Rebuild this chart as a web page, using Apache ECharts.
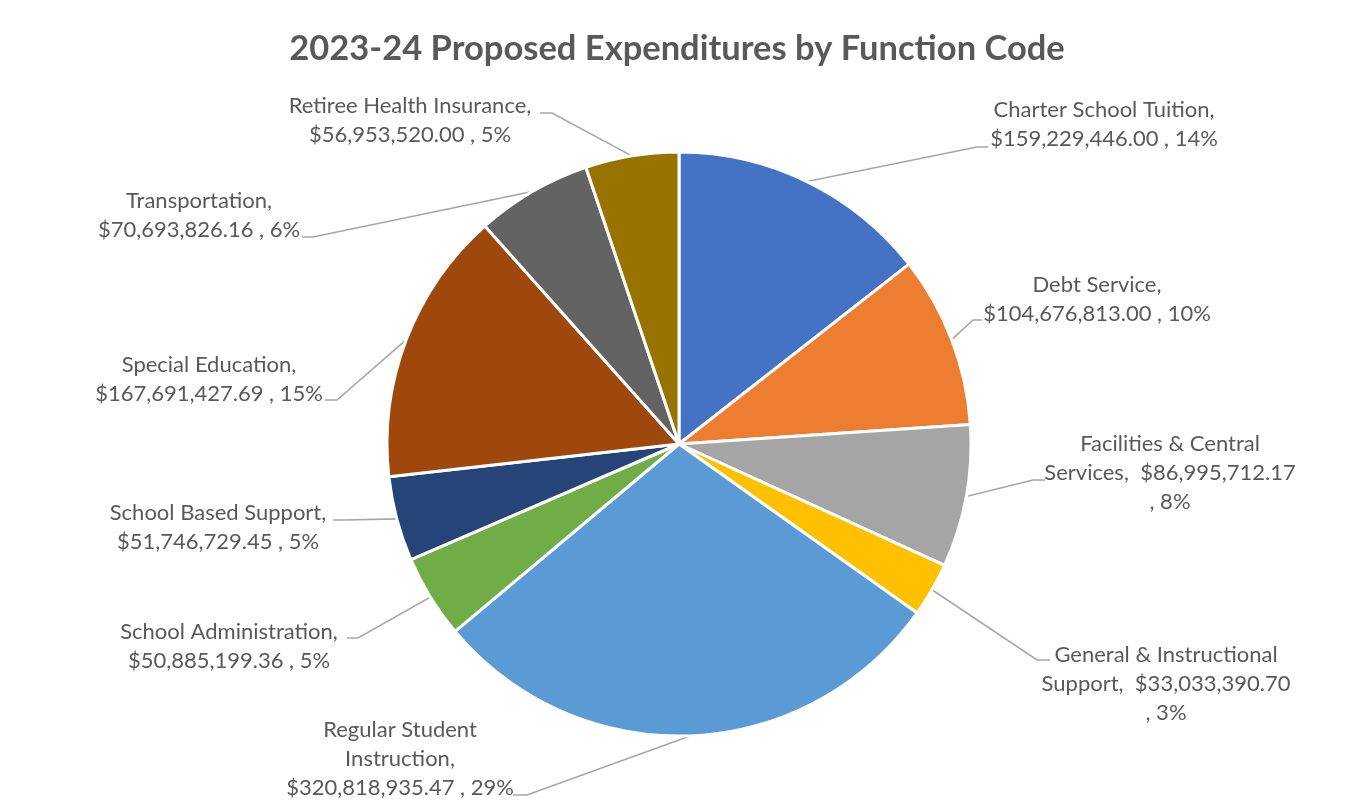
<!DOCTYPE html>
<html>
<head>
<meta charset="utf-8">
<title>2023-24 Proposed Expenditures by Function Code</title>
<script src="https://cdn.jsdelivr.net/npm/echarts@6/dist/echarts.min.js"></script>
<style>
  html, body { margin: 0; padding: 0; background: #ffffff; }
  #chart { width: 1354px; height: 807px; }
</style>
</head>
<body>
<div id="chart"></div>
<script>
// Budget lines, clockwise from 12 o'clock
const categories = [
  'Charter School Tuition',
  'Debt Service',
  'Facilities & Central Services',
  'General & Instructional Support',
  'Regular Student Instruction',
  'School Administration',
  'School Based Support',
  'Special Education',
  'Transportation',
  'Retiree Health Insurance'
];
const amounts = [
  159229446.00,
  104676813.00,
  86995712.17,
  33033390.70,
  320818935.47,
  50885199.36,
  51746729.45,
  167691427.69,
  70693826.16,
  56953520.00
];
const sliceColors = [
  '#4472C4', '#ED7D31', '#A5A5A5', '#FFC000', '#5B9BD5',
  '#70AD47', '#264478', '#9E480E', '#636363', '#997300'
];
// word positions after which each label wraps onto a new line
const labelBreaks = [[3], [2], [3, 5], [3, 5], [2, 3], [2], [3], [2], [1], [3]];
// label placement: [centre x, top y, elbow x, elbow y, end x, end y]
const labelSpots = [
  [1104,  95, 977, 147, 988, 147],
  [1097, 270, 973, 320, 982, 320],
  [1170, 429, 1033, 480, 1045, 480],
  [1166, 640, 1037, 660, 1050, 660],
  [ 400, 715, 527, 795, 513, 795],
  [ 229, 617, 358, 638, 347, 638],
  [ 218, 498, 345, 520, 333, 520],
  [ 209, 350, 337, 400, 325, 400],
  [ 199, 186, 313, 237, 302, 237],
  [ 410,  91, 552, 113, 540, 113]
];

const total = amounts.reduce((a, b) => a + b, 0);

function money(v) {
  const parts = v.toFixed(2).split('.');
  parts[0] = parts[0].replace(/\B(?=(\d{3})+(?!\d))/g, ',');
  return '$' + parts[0] + '.' + parts[1];
}

// "Name, $value , pct%" wrapped at the listed word positions
function labelText(i, percent) {
  const words = categories[i].split(' ');
  words[words.length - 1] += ',';
  const nameCount = words.length;
  const tokens = words.concat([money(amounts[i]), ',', Math.round(percent) + '%']);
  const breaks = labelBreaks[i];
  const lines = [];
  let cur = '';
  tokens.forEach((t, k) => {
    if (cur === '') cur = t;
    else cur += (k === nameCount ? '  ' : ' ') + t;
    if (breaks.indexOf(k + 1) >= 0) { lines.push(cur); cur = ''; }
  });
  if (cur !== '') lines.push(cur);
  return lines.join('\n');
}

const chart = echarts.init(document.getElementById('chart'), null, { renderer: 'canvas' });

const pieCenter = [679, 444];
const pieRadius = 292;

chart.setOption({
  backgroundColor: '#ffffff',
  animation: false,
  title: {
    text: '2023-24 Proposed Expenditures by Function Code',
    left: 'center',
    top: 26,
    textStyle: {
      fontFamily: 'Lato',
      fontWeight: 'bold',
      fontSize: 34.5,
      color: '#595959'
    }
  },
  series: [{
    type: 'pie',
    center: pieCenter,
    radius: pieRadius,
    startAngle: 90,
    clockwise: true,
    avoidLabelOverlap: false,
    percentPrecision: 0,
    data: categories.map((name, i) => ({
      name: name,
      value: amounts[i],
      itemStyle: { color: sliceColors[i] }
    })),
    itemStyle: {
      borderColor: '#ffffff',
      borderWidth: 3
    },
    label: {
      show: true,
      position: 'outer',
      alignTo: 'none',
      fontFamily: 'Lato',
      fontSize: 22,
      lineHeight: 29,
      color: '#595959',
      formatter: p => labelText(p.dataIndex, p.percent)
    },
    labelLine: {
      show: true,
      length: 20,
      length2: 10,
      lineStyle: { color: '#A6A6A6', width: 1.6 }
    },
    labelLayout: function (params) {
      const i = params.dataIndex;
      const s = labelSpots[i];
      let start;
      if (params.labelLinePoints && params.labelLinePoints[0]) {
        start = params.labelLinePoints[0];
      } else {
        let before = 0;
        for (let k = 0; k < i; k++) before += amounts[k];
        const a = (before + amounts[i] / 2) / total * Math.PI * 2;
        start = [pieCenter[0] + pieRadius * Math.sin(a), pieCenter[1] - pieRadius * Math.cos(a)];
      }
      return {
        x: s[0],
        y: s[1],
        align: 'center',
        verticalAlign: 'top',
        labelLinePoints: [start, [s[2], s[3]], [s[4], s[5]]]
      };
    },
    emphasis: { disabled: true }
  }]
});
</script>
</body>
</html>
